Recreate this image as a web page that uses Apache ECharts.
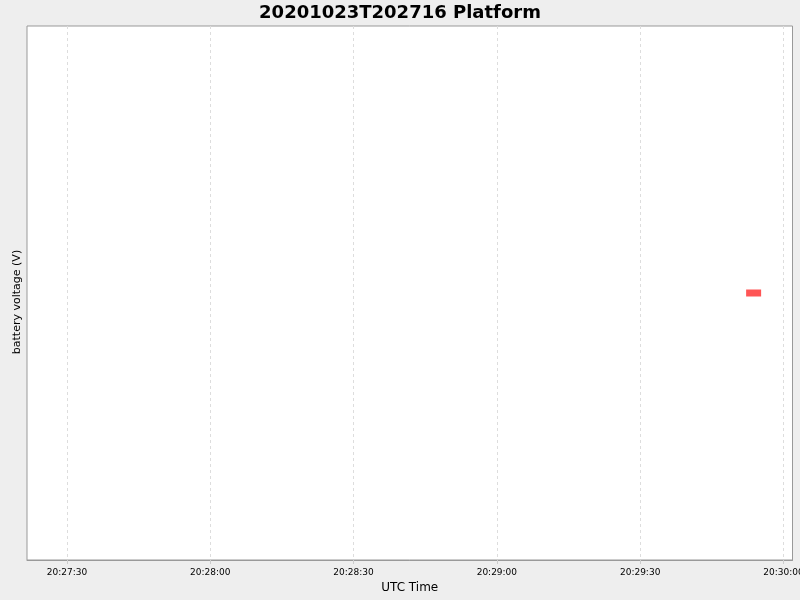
<!DOCTYPE html>
<html>
<head>
<meta charset="utf-8">
<script src="https://cdn.jsdelivr.net/npm/echarts@6/dist/echarts.min.js"></script>
<style>
html,body{margin:0;padding:0;background:#eeeeee;}
#main{width:800px;height:600px;}
</style>
</head>
<body>
<div id="main"></div>
<script>
// data
var titleText = '20201023T202716 Platform';
var pointTimes = [Date.UTC(2020, 9, 23, 20, 29, 53, 760)];
var batteryVoltage = [12.6];
var axisStart = Date.UTC(2020, 9, 23, 20, 27, 21, 620);
var axisEnd = Date.UTC(2020, 9, 23, 20, 30, 1, 900);
var tickTimes = [
	Date.UTC(2020, 9, 23, 20, 27, 30),
	Date.UTC(2020, 9, 23, 20, 28, 0),
	Date.UTC(2020, 9, 23, 20, 28, 30),
	Date.UTC(2020, 9, 23, 20, 29, 0),
	Date.UTC(2020, 9, 23, 20, 29, 30),
	Date.UTC(2020, 9, 23, 20, 30, 0)
];

function pad(n){ return (n < 10 ? '0' : '') + n; }

var seriesData = [];
for (var i = 0; i < pointTimes.length; i++) {
	seriesData.push([pointTimes[i], batteryVoltage[i]]);
}

var myChart = echarts.init(document.getElementById('main'));
var option = {
	backgroundColor: '#eeeeee',
	animation: false,
	title: {
		text: titleText,
		left: 'center',
		top: -1,
		textStyle: { fontFamily: 'DejaVu Sans', fontSize: 18, fontWeight: 'bold', color: '#000' }
	},
	grid: {
		left: 27, right: 7.5, top: 26, bottom: 40,
		outerBoundsMode: 'none',
		containLabel: false,
		show: true, backgroundColor: '#ffffff', borderColor: '#999999', borderWidth: 1
	},
	xAxis: {
		type: 'value',
		min: axisStart,
		max: axisEnd,
		name: 'UTC Time',
		nameLocation: 'middle',
		nameGap: 21,
		nameTextStyle: { fontFamily: 'DejaVu Sans', fontSize: 12, color: '#000' },
		axisLine: { show: true, lineStyle: { color: '#999999' } },
		axisTick: { show: true, length: 4, customValues: tickTimes, lineStyle: { color: '#cccccc' } },
		axisLabel: {
			fontFamily: 'DejaVu Sans', fontSize: 9, color: '#000', margin: 8,
			customValues: tickTimes, hideOverlap: false,
			formatter: function (v) {
				var d = new Date(v);
				return pad(d.getUTCHours()) + ':' + pad(d.getUTCMinutes()) + ':' + pad(d.getUTCSeconds());
			}
		},
		splitLine: { show: true, lineStyle: { color: '#dddddd', type: [3, 3] } }
	},
	yAxis: {
		type: 'value',
		min: 12.1,
		max: 13.1,
		name: 'battery voltage (V)',
		nameLocation: 'middle',
		nameRotate: 90,
		nameGap: 4,
		nameTextStyle: { fontFamily: 'DejaVu Sans', fontSize: 11, color: '#000', padding: [0, 18, 0, 0] },
		axisLine: { show: false },
		axisTick: { show: false },
		axisLabel: { show: false },
		splitLine: { show: false }
	},
	series: [{
		name: 'battery voltage',
		type: 'scatter',
		symbol: 'rect',
		symbolSize: [15, 7],
		itemStyle: { color: '#ff5555', opacity: 1 },
		data: seriesData
	}]
};
myChart.setOption(option);
</script>
</body>
</html>
